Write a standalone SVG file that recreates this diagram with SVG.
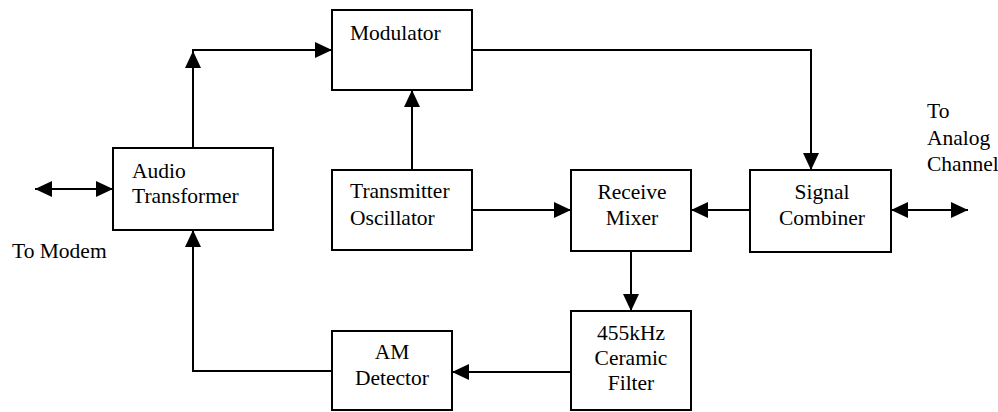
<svg xmlns="http://www.w3.org/2000/svg" width="998" height="412" viewBox="0 0 998 412">
<style>
.box{fill:#fff;stroke:#000;stroke-width:2}
.t{font-size:21.5px;fill:#000}
.c{text-anchor:middle}
.ln{fill:none;stroke:#000;stroke-width:2}
</style>
<defs>
<marker id="ah" markerUnits="userSpaceOnUse" markerWidth="17" markerHeight="16" refX="17" refY="8" orient="auto-start-reverse">
<path d="M0,0 L17,8 L0,16 z" fill="#000"/>
</marker>
</defs>
<rect width="998" height="412" fill="#fff"/>
<g id="connectors">
<path class="ln" d="M193,148 V51" marker-end="url(#ah)"/>
<path class="ln" d="M192,50 H332" marker-end="url(#ah)"/>
<path class="ln" d="M412,170 V90" marker-end="url(#ah)"/>
<path class="ln" d="M472,50 H811 V170" marker-end="url(#ah)"/>
<path class="ln" d="M472,210 H571" marker-end="url(#ah)"/>
<path class="ln" d="M750,210 H691" marker-end="url(#ah)"/>
<path class="ln" d="M891,210 H968" marker-start="url(#ah)" marker-end="url(#ah)"/>
<path class="ln" d="M35,189 H113" marker-start="url(#ah)" marker-end="url(#ah)"/>
<path class="ln" d="M631,251 V311" marker-end="url(#ah)"/>
<path class="ln" d="M571,372 H452" marker-end="url(#ah)"/>
<path class="ln" d="M332,371 H193 V230" marker-end="url(#ah)"/>
</g>
<g font-family="Liberation Serif, DejaVu Serif, serif">
<g id="modulator">
<rect class="box" x="332" y="10" width="140" height="80"/>
<text class="t" x="350" y="40">Modulator</text>
</g>
<g id="audio-transformer">
<rect class="box" x="113" y="148" width="160" height="82"/>
<text class="t" x="132" y="178">Audio</text>
<text class="t" x="132" y="203">Transformer</text>
</g>
<g id="transmitter-oscillator">
<rect class="box" x="332" y="170" width="140" height="80"/>
<text class="t" x="350" y="198">Transmitter</text>
<text class="t" x="350" y="225">Oscillator</text>
</g>
<g id="receive-mixer">
<rect class="box" x="571" y="170" width="120" height="81"/>
<text class="t c" x="632" y="199">Receive</text>
<text class="t c" x="632" y="225">Mixer</text>
</g>
<g id="signal-combiner">
<rect class="box" x="750" y="170" width="141" height="82"/>
<text class="t c" x="822" y="199">Signal</text>
<text class="t c" x="822" y="225">Combiner</text>
</g>
<g id="ceramic-filter">
<rect class="box" x="571" y="311" width="120" height="99"/>
<text class="t c" x="631" y="340">455kHz</text>
<text class="t c" x="631" y="365">Ceramic</text>
<text class="t c" x="631" y="390">Filter</text>
</g>
<g id="am-detector">
<rect class="box" x="332" y="331" width="120" height="79"/>
<text class="t c" x="392" y="359">AM</text>
<text class="t c" x="392" y="385">Detector</text>
</g>
<g id="labels">
<text class="t" x="12" y="258">To Modem</text>
<text class="t" x="927" y="118">To</text>
<text class="t" x="927" y="145">Analog</text>
<text class="t" x="927" y="171">Channel</text>
</g>
</g>
</svg>
